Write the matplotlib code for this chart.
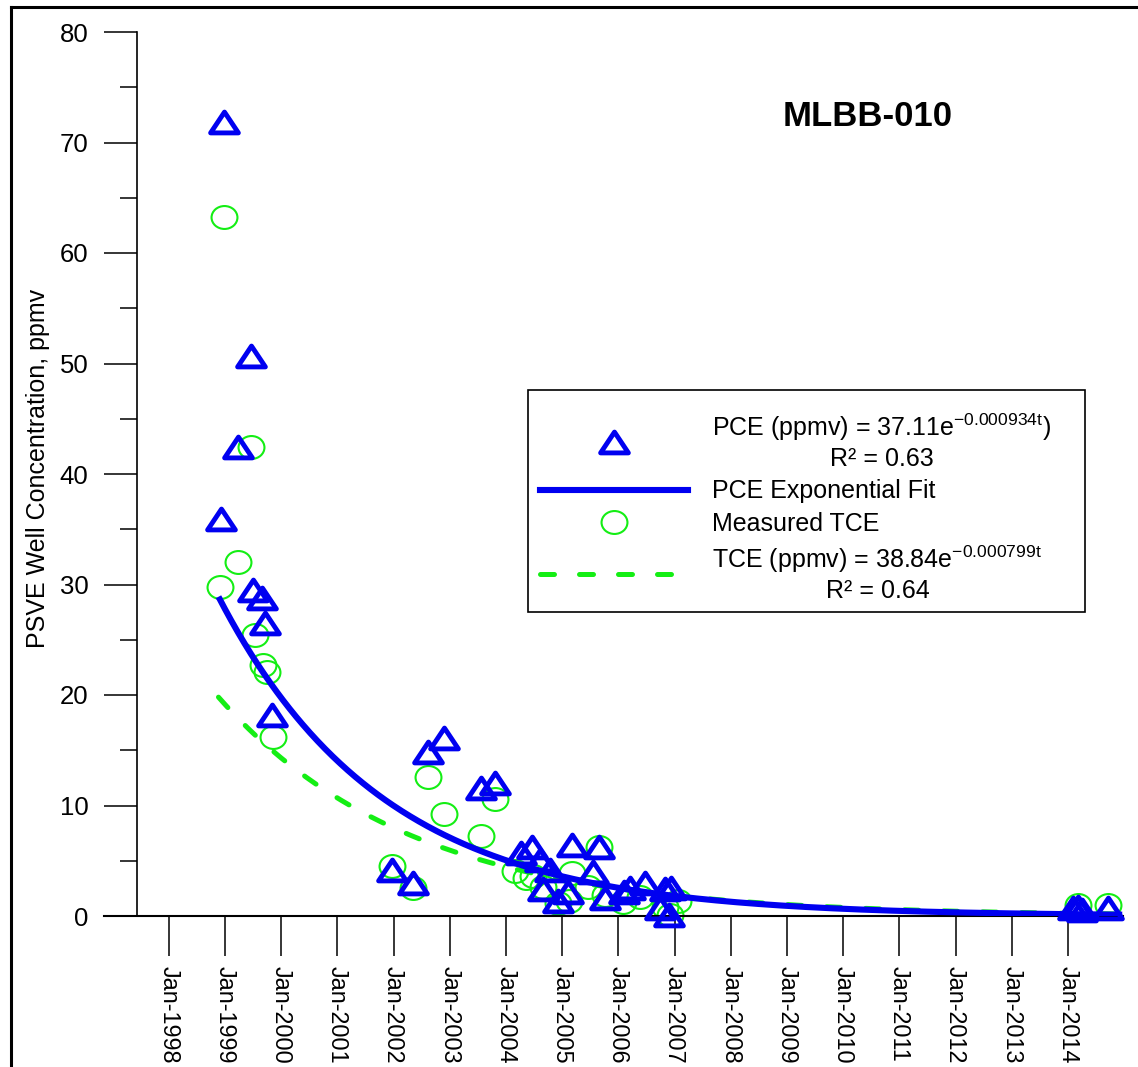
import numpy as np
import matplotlib
matplotlib.use("Agg")
import matplotlib.pyplot as plt
import matplotlib.dates as mdates
from matplotlib.markers import MarkerStyle
from matplotlib.transforms import Affine2D
from matplotlib.path import Path
from matplotlib.lines import Line2D
from matplotlib.patches import Rectangle

plt.rcParams['font.family'] = ['Liberation Sans', 'DejaVu Sans']
plt.rcParams['mathtext.default'] = 'regular'

# measured PCE
pce_dates = ['1998-12-27', '1998-12-06', '1999-06-20', '1999-03-28', '1999-07-01',
             '1999-08-29', '1999-09-18', '1999-11-02', '2001-12-22', '2002-05-08',
             '2002-08-12', '2002-11-24', '2003-07-23', '2003-10-19', '2004-04-08',
             '2004-06-19', '2004-08-11', '2004-10-15', '2004-08-30', '2004-12-05',
             '2005-02-10', '2005-03-08', '2005-08-25', '2005-07-19', '2005-10-09',
             '2006-02-06', '2006-03-17', '2006-06-24', '2006-11-01', '2006-12-10',
             '2006-09-29', '2006-11-24', '2014-02-02', '2014-03-07', '2014-04-01',
             '2014-09-18']
pce_ppmv = [71.9, 35.9, 50.7, 42.4, 29.5, 28.8, 26.5, 18.2, 4.2, 3.0,
            14.8, 16.1, 11.6, 12.0, 5.7, 6.2, 5.1, 4.2, 2.4, 1.4,
            2.2, 6.4, 6.2, 4.0, 1.6, 2.2, 2.5, 3.0, 2.4, 2.5,
            0.7, 0.1, 0.7, 0.8, 0.5, 0.7]

# measured TCE
tce_dates = ['1998-12-27', '1998-12-01', '1999-03-30', '1999-06-20', '1999-07-15',
             '1999-09-05', '1999-09-30', '1999-11-08', '2001-12-22', '2002-05-08',
             '2002-08-12', '2002-11-24', '2003-07-23', '2003-10-19', '2004-03-01',
             '2004-05-10', '2004-06-25', '2004-08-30', '2004-12-05', '2005-02-15',
             '2005-03-08', '2005-06-15', '2005-08-25', '2005-10-09', '2006-02-01',
             '2006-05-20', '2006-11-01', '2006-12-05', '2007-01-25', '2014-03-07',
             '2014-09-18']
tce_ppmv = [63.3, 29.8, 32.0, 42.4, 25.4, 22.7, 22.1, 16.2, 4.5, 2.5,
            12.6, 9.2, 7.2, 10.6, 4.1, 3.4, 3.6, 2.6, 1.2, 1.4,
            3.9, 2.6, 6.2, 1.9, 1.3, 1.7, 0.8, 0.1, 1.4, 1.0,
            1.0]

# exponential fits (coefficients from the legend), t in days
pce_coef, pce_rate, pce_t0 = 37.11, 0.000934, 268
tce_coef, tce_rate, tce_t0 = 38.84, 0.000799, 843
fit_start, fit_end = '1998-11-20', '2014-12-22'

tick_years = list(range(1998, 2015))
pce_label = 'PCE (ppmv) = 37.11e$^{-0.000934t}$)\nR\u00b2 = 0.63'
tce_label = 'TCE (ppmv) = 38.84e$^{-0.000799t}$\nR\u00b2 = 0.64'

blue = '#0000f0'
green = '#14ee14'

W, H = 1138, 1067
fig = plt.figure(figsize=(W / 100, H / 100), dpi=100)
ax = fig.add_axes([104 / W, 1 - 916 / H, (1123 - 104) / W, (916 - 32) / H])

fit_days = np.arange(np.datetime64(fit_start), np.datetime64(fit_end), np.timedelta64(7, 'D'))
elapsed = (fit_days - fit_days[0]).astype(int)
pce_fit = pce_coef * np.exp(-pce_rate * (elapsed + pce_t0))
tce_fit = tce_coef * np.exp(-tce_rate * (elapsed + tce_t0))

tri = Path([(0, 0.75), (1, -0.75), (-1, -0.75), (0, 0.75)],
           [Path.MOVETO, Path.LINETO, Path.LINETO, Path.CLOSEPOLY])
circ = MarkerStyle('o', fillstyle='none', transform=Affine2D().scale(1.13, 1.0))
tri_kw = dict(marker=tri, ms=20, mfc='none', mec=blue, mew=3.5)
circ_kw = dict(marker=circ, ms=16.5, mec=green, mew=1.5)
dash_kw = dict(color=green, lw=3.6, dashes=(2.8, 5.0), dash_capstyle='round')

ax.plot(np.array(tce_dates, dtype='datetime64[D]'), tce_ppmv, ls='none',
        zorder=2, clip_on=False, **circ_kw)
ax.plot(fit_days, tce_fit, zorder=3, **dash_kw)
ax.plot(fit_days, pce_fit, color=blue, lw=4.4, solid_capstyle='butt', zorder=4)
ax.plot(np.array(pce_dates, dtype='datetime64[D]'), pce_ppmv, ls='none',
        zorder=5, clip_on=False, **tri_kw)

ax.set_xlim(np.datetime64('1996-11-06'), np.datetime64('2014-12-24'))
ax.set_ylim(0, 80)
ax.set_xticks([np.datetime64(f'{y}-01-01') for y in tick_years])
ax.xaxis.set_major_formatter(mdates.DateFormatter('Jan-%Y'))
ax.set_yticks(np.arange(0, 81, 10))
ax.set_yticks(np.arange(5, 80, 10), minor=True)

for s in ('top', 'right'):
    ax.spines[s].set_visible(False)
ax.spines['left'].set_position(('axes', 33 / 1019))
ax.spines['left'].set_linewidth(1.2)
ax.spines['bottom'].set_linewidth(1.5)

ax.tick_params(axis='x', which='major', direction='out', length=29, width=1.1,
               pad=7, labelsize=16.8, labelrotation=270)
ax.tick_params(axis='y', which='major', direction='out', length=24, width=1.1,
               pad=11, labelsize=18.5)
ax.tick_params(axis='y', which='minor', direction='out', length=12, width=1.1)
for lab in ax.get_xticklabels():
    lab.set_horizontalalignment('center')
    lab.set_verticalalignment('top')

fig.text(38 / W, 1 - 468 / H, 'PSVE Well Concentration, ppmv', rotation=90,
         ha='center', va='center', fontsize=18)
fig.text(868 / W, 1 - 116 / H, 'MLBB-010', ha='center', va='center',
         fontsize=25, fontweight='bold')

# legend box and entries
ax.add_patch(Rectangle((528 / W, 1 - 612 / H), (1085 - 528) / W, (612 - 390) / H,
                       transform=fig.transFigure, facecolor='white',
                       edgecolor='black', lw=1.2, zorder=6, clip_on=False))
handles = [
    Line2D([], [], ls='none', **tri_kw),
    Line2D([], [], color=blue, lw=4.4),
    Line2D([], [], ls='none', **circ_kw),
    Line2D([], [], **dash_kw),
]
labels = [pce_label, 'PCE Exponential Fit', 'Measured TCE', tce_label]
leg = ax.legend(handles, labels, loc='upper left', bbox_to_anchor=(540 / W, 1 - 412 / H),
                bbox_transform=fig.transFigure, frameon=False, fontsize=18,
                handlelength=5.9, handletextpad=1.0, borderpad=0, borderaxespad=0,
                labelspacing=0.33)
leg.set_zorder(7)
for t in leg.get_texts():
    t.set_multialignment('center')

# figure border (left and top)
fig.add_artist(Line2D([10.5 / W, 10.5 / W], [0, 1 - 7 / H], color='black', lw=2.2,
                      transform=fig.transFigure))
fig.add_artist(Line2D([10.5 / W, 1], [1 - 7 / H, 1 - 7 / H], color='black', lw=2.2,
                      transform=fig.transFigure))

fig.savefig('out.png', dpi=100)
